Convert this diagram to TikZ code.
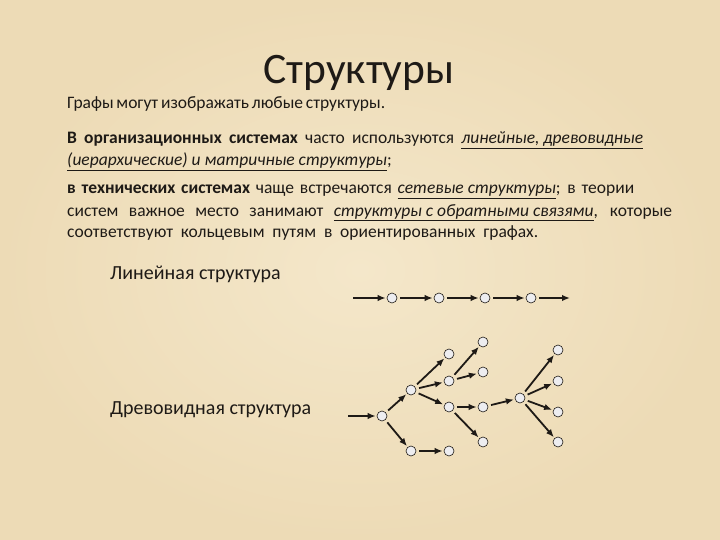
\documentclass[tikz,border=0pt]{standalone}
\usepackage{fontspec}
\setmainfont{Carlito}
\usetikzlibrary{arrows.meta}
\definecolor{bgin}{HTML}{F4E7CA}
\definecolor{bgout}{HTML}{EDDBB6}
\definecolor{ink}{HTML}{1E1A16}
\definecolor{vfill}{HTML}{EDEDF0}
\tikzset{
  body/.style={anchor=base west, inner sep=0pt, text=ink, font=\fontsize{17.5}{21}\selectfont},
  label/.style={anchor=base west, inner sep=0pt, text=ink, font=\fontsize{20}{24}\selectfont},
  vert/.style={circle, draw=ink, line width=0.6pt, fill=vfill, minimum size=10pt, inner sep=0pt},
  edge/.style={draw=ink, line width=1.8pt, -{Latex[length=8pt,width=6.5pt]}, shorten >=1pt, shorten <=3pt},
}
\newcommand{\ui}[1]{\underline{\textit{#1}}}
\newcommand{\sline}[2]{\makebox[#1][s]{#2}}
\begin{document}
\begin{tikzpicture}[x=1pt,y=-1pt]
\shade[inner color=bgin, outer color=bgout] (0,0) rectangle (720,540);
\useasboundingbox (0,0) rectangle (720,540);
\node[anchor=base, inner sep=0pt, text=ink, font=\fontsize{43.5}{48}\selectfont] (title) at (359,84) {Структуры};
\node[body] (l1) at (67,109) {\sline{318pt}{Графы могут изображать любые структуры.}};
\node[body] (l2) at (67,144) {\sline{576pt}{\textbf{В организационных системах} часто используются \ui{линейные, древовидные}}};
\node[body] (l3) at (67,166) {\sline{318pt}{\ui{(иерархические) и матричные структуры};}};
\node[body] (l4) at (67,194) {\sline{567pt}{\textbf{в технических системах} чаще встречаются \ui{сетевые структуры}; в теории}};
\node[body] (l5) at (67,216) {\sline{605pt}{систем важное место занимают \ui{структуры с обратными связями}, которые}};
\node[body] (l6) at (67,237) {\sline{471pt}{соответствуют кольцевым путям в ориентированных графах.}};
\node[label] (lab1) at (110,279) {Линейная структура};
\node[label] (lab2) at (110,414) {Древовидная структура};
% linear
\coordinate (ls) at (353,298);
\node[vert] (p1) at (392,298) {};
\node[vert] (p2) at (439,298) {};
\node[vert] (p3) at (485,298) {};
\node[vert] (p4) at (531,298) {};
\coordinate (le) at (570,298);
\draw[edge, shorten <=0pt] (ls) -- (p1);
\draw[edge] (p1) -- (p2);
\draw[edge] (p2) -- (p3);
\draw[edge] (p3) -- (p4);
\draw[edge, shorten >=0pt] (p4) -- (le);
% tree
\coordinate (ts) at (348,416);
\node[vert] (r) at (382,416) {};
\node[vert] (a) at (411,390) {};
\node[vert] (b) at (411,451) {};
\node[vert] (a1) at (449,354) {};
\node[vert] (a2) at (449,381) {};
\node[vert] (a3) at (449,407) {};
\node[vert] (b1) at (449,451) {};
\node[vert] (a21) at (483,342) {};
\node[vert] (a22) at (483,372) {};
\node[vert] (a31) at (483,407) {};
\node[vert] (a32) at (483,442) {};
\node[vert] (c) at (520,398) {};
\node[vert] (c1) at (558,350) {};
\node[vert] (c2) at (558,381) {};
\node[vert] (c3) at (558,412) {};
\node[vert] (c4) at (558,442) {};
\draw[edge, shorten <=0pt] (ts) -- (r);
\draw[edge] (r) -- (a);
\draw[edge] (r) -- (b);
\draw[edge] (a) -- (a1);
\draw[edge] (a) -- (a2);
\draw[edge] (a) -- (a3);
\draw[edge] (b) -- (b1);
\draw[edge] (a2) -- (a21);
\draw[edge] (a2) -- (a22);
\draw[edge] (a3) -- (a31);
\draw[edge] (a3) -- (a32);
\draw[edge] (a31) -- (c);
\draw[edge] (c) -- (c1);
\draw[edge] (c) -- (c2);
\draw[edge] (c) -- (c3);
\draw[edge] (c) -- (c4);
\end{tikzpicture}
\end{document}
